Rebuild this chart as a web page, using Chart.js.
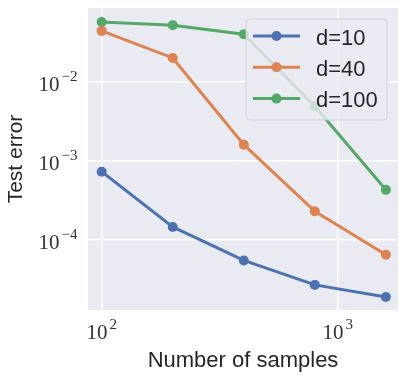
<!DOCTYPE html>
<html>
<head>
<meta charset="utf-8">
<script src="https://cdn.jsdelivr.net/npm/chart.js@4"></script>
<style>
  html, body { margin: 0; padding: 0; background: #fff; }
  #wrap { width: 407px; height: 378px; }
</style>
</head>
<body>
<div id="wrap"><canvas id="errChart" width="407" height="378"></canvas></div>
<script>
// data
var samples = [100, 200, 400, 800, 1600];
var err10 = [7.3e-4, 1.46e-4, 5.5e-5, 2.7e-5, 1.9e-5];
var err40 = [4.4e-2, 2.0e-2, 1.6e-3, 2.3e-4, 6.5e-5];
var err100 = [5.7e-2, 5.2e-2, 4.0e-2, 4.9e-3, 4.3e-4];
var seriesNames = ['d=10', 'd=40', 'd=100'];
var seriesColors = ['#4C72B0', '#DD8452', '#55A868'];
var xTicks = [100, 1000];
var yTicks = [1e-4, 1e-3, 1e-2];

function pts(ys) {
  return samples.map(function (s, i) { return { x: s, y: ys[i] }; });
}

function exponent(v) { return Math.round(Math.log10(v)); }

// seaborn-ish background behind the plot
var bgPlugin = {
  id: 'bg',
  beforeDraw: function (chart) {
    var a = chart.chartArea, ctx = chart.ctx;
    ctx.save();
    ctx.fillStyle = '#EAEAF2';
    ctx.fillRect(a.left, a.top, a.right - a.left, a.bottom - a.top);
    ctx.restore();
  }
};

// 10^n tick labels with a raised exponent
var tickPlugin = {
  id: 'powTicks',
  afterDraw: function (chart) {
    var ctx = chart.ctx;
    var xs = chart.scales.x, ys = chart.scales.y;
    ctx.save();
    ctx.fillStyle = '#333333';
    function label(v, px, py, align) {
      var base = '10', exp = String(exponent(v)).replace('-', '\u2212');
      ctx.font = '21px "Liberation Serif"';
      var wb = ctx.measureText(base).width;
      ctx.font = '15px "Liberation Serif"';
      var we = ctx.measureText(exp).width;
      var x0 = align === 'right' ? px - wb - we - 2 : px - (wb + we + 2) / 2;
      ctx.textBaseline = 'alphabetic';
      ctx.textAlign = 'left';
      ctx.font = '21px "Liberation Serif"';
      ctx.fillText(base, x0, py);
      ctx.font = '15px "Liberation Serif"';
      ctx.fillText(exp, x0 + wb + 2, py - 10.5);
    }
    xTicks.forEach(function (v) { label(v, xs.getPixelForValue(v), 339, 'center'); });
    yTicks.forEach(function (v) { label(v, 77.5, ys.getPixelForValue(v) + 9.3, 'right'); });
    ctx.restore();
  }
};

// legend box inside the plot, like matplotlib's
var legendPlugin = {
  id: 'innerLegend',
  afterDatasetsDraw: function (chart) {
    var ctx = chart.ctx;
    var bx = 246, by = 19, bw = 141, bh = 101, r = 4;
    ctx.save();
    ctx.beginPath();
    ctx.roundRect(bx, by, bw, bh, r);
    ctx.fillStyle = 'rgba(234,234,242,0.8)';
    ctx.fill();
    ctx.strokeStyle = 'rgba(204,204,204,0.8)';
    ctx.lineWidth = 1;
    ctx.stroke();
    chart.data.datasets.forEach(function (ds, i) {
      var cy = 36 + i * 31.3;
      ctx.strokeStyle = ds.borderColor;
      ctx.lineWidth = 3;
      ctx.beginPath();
      ctx.moveTo(253, cy);
      ctx.lineTo(300, cy);
      ctx.stroke();
      ctx.fillStyle = ds.borderColor;
      ctx.beginPath();
      ctx.arc(276.5, cy, 5, 0, Math.PI * 2);
      ctx.fill();
      ctx.fillStyle = '#262626';
      ctx.font = '22px "Liberation Sans"';
      ctx.textBaseline = 'alphabetic';
      ctx.textAlign = 'left';
      ctx.fillText(ds.label, 316, cy + 8.5);
    });
    ctx.restore();
  }
};

new Chart(document.getElementById('errChart'), {
  type: 'line',
  data: {
    datasets: [
      { label: seriesNames[0], data: pts(err10) },
      { label: seriesNames[1], data: pts(err40) },
      { label: seriesNames[2], data: pts(err100) }
    ].map(function (ds, i) {
      ds.borderColor = seriesColors[i];
      ds.backgroundColor = seriesColors[i];
      ds.borderWidth = 3;
      ds.pointRadius = 5;
      ds.pointBorderWidth = 0;
      ds.tension = 0;
      ds.clip = false;
      return ds;
    })
  },
  options: {
    responsive: false,
    animation: false,
    layout: { padding: { top: 8, right: 9, left: 0, bottom: 0 } },
    plugins: { legend: { display: false }, tooltip: { enabled: false } },
    scales: {
      x: {
        type: 'logarithmic',
        min: 87.5,
        max: 1801,
        afterBuildTicks: function (s) { s.ticks = xTicks.map(function (v) { return { value: v }; }); },
        afterFit: function (s) { s.height = 68; },
        ticks: { display: false },
        border: { display: false },
        grid: { color: '#ffffff', lineWidth: 1.5, drawTicks: false },
        title: {
          display: true,
          text: 'Number of samples',
          color: '#262626',
          font: { family: 'Liberation Sans', size: 22 },
          padding: { top: 0, bottom: 4 },
          align: 'center'
        }
      },
      y: {
        type: 'logarithmic',
        min: 1.3e-5,
        max: 0.0857,
        afterBuildTicks: function (s) { s.ticks = yTicks.map(function (v) { return { value: v }; }); },
        afterFit: function (s) { s.width = 88; },
        ticks: { display: false },
        border: { display: false },
        grid: { color: '#ffffff', lineWidth: 1.5, drawTicks: false },
        title: {
          display: true,
          text: 'Test error',
          color: '#262626',
          font: { family: 'Liberation Sans', size: 21 },
          padding: { top: 4, bottom: 0 }
        }
      }
    }
  },
  plugins: [bgPlugin, tickPlugin, legendPlugin]
});
</script>
</body>
</html>
